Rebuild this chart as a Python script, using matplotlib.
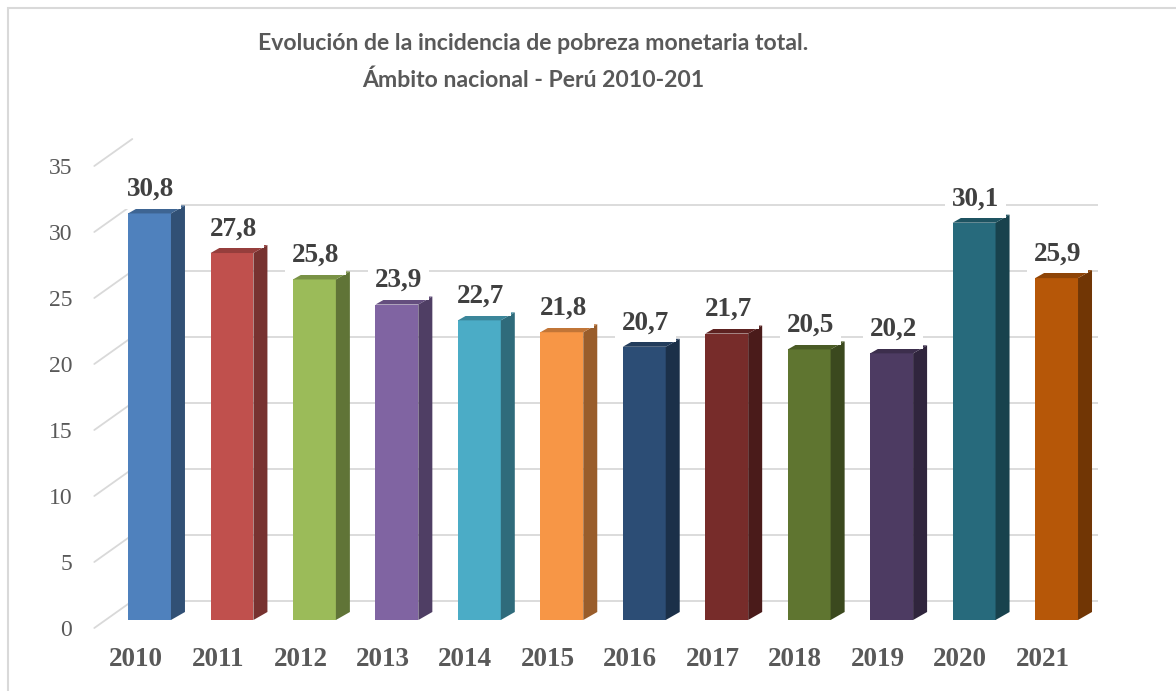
import matplotlib
matplotlib.use("Agg")
import matplotlib.pyplot as plt
from matplotlib.patches import Polygon, Rectangle, ConnectionPatch
from matplotlib.transforms import ScaledTranslation
import numpy as np

# ---- data ----
years = ["2010", "2011", "2012", "2013", "2014", "2015",
         "2016", "2017", "2018", "2019", "2020", "2021"]
values = [30.8, 27.8, 25.8, 23.9, 22.7, 21.8, 20.7, 21.7, 20.5, 20.2, 30.1, 25.9]
value_labels = ["30,8", "27,8", "25,8", "23,9", "22,7", "21,8",
                "20,7", "21,7", "20,5", "20,2", "30,1", "25,9"]
yticks = [0, 5, 10, 15, 20, 25, 30, 35]
colors = ["#4F81BD", "#C0504D", "#9BBB59", "#8064A2", "#4BACC6", "#F79646",
          "#2C4D75", "#772C2A", "#5F7530", "#4D3B62", "#276A7C", "#B65708"]
title_lines = ["Evolución de la incidencia de pobreza monetaria total.",
               "Ámbito nacional - Perú 2010-201"]

# ---- figure geometry (pixels) ----
W, H, DPI = 1176, 691, 100
AX_L, AX_R = 108.3, 1097.8
AX_B, AX_T = 620.0, 158.0
fig = plt.figure(figsize=(W / DPI, H / DPI), dpi=DPI)
ax = fig.add_axes([AX_L / W, (H - AX_B) / H, (AX_R - AX_L) / W, (AX_B - AX_T) / H])
ax.set_xlim(-0.5, len(years) - 0.5)
ax.set_ylim(0, 35)
ax.axis("off")

px_x = (AX_R - AX_L) / len(years)
px_y = (AX_B - AX_T) / 35.0


def off(dx, dy):
    return ax.transData + ScaledTranslation(dx / DPI, dy / DPI, fig.dpi_scale_trans)


BACK = (24, 19)
LABEL = (-14, -8)
grid_c = "#D9D9D9"

# back wall gridlines + diagonals
for v in yticks:
    ax.plot([-0.5, len(years) - 0.5], [v, v], color=grid_c, lw=1.3,
            transform=off(*BACK), zorder=1, solid_capstyle="butt")
    cp = ConnectionPatch(xyA=(-0.5, v), coordsA=off(*LABEL),
                         xyB=(-0.5, v), coordsB=off(*BACK),
                         color=grid_c, lw=1.3, zorder=1)
    ax.add_artist(cp)
    ax.text(-0.5, v, str(v), transform=off(LABEL[0] - 22, LABEL[1] - 2),
            ha="right", va="center", fontsize=17, color="#595959",
            family="Liberation Serif")

# bars
x = np.arange(len(years))
bw = 0.52
ddx = 14 / px_x
ddy = 8 / px_y


def shade(c, f):
    r, g, b = matplotlib.colors.to_rgb(c)
    return (r * f, g * f, b * f)


ax.bar(x, values, width=bw, color=colors, zorder=3)
for xi, v, c in zip(x, values, colors):
    r = xi + bw / 2
    l = xi - bw / 2
    side = Polygon([(r, 0), (r + ddx, ddy), (r + ddx, v + ddy), (r, v)],
                   closed=True, fc=shade(c, 0.62), ec="none", zorder=3)
    top = Polygon([(l, v), (l + ddx, v + ddy), (r + ddx, v + ddy), (r, v)],
                  closed=True, fc=shade(c, 0.78), ec="none", zorder=3)
    ax.add_patch(side)
    ax.add_patch(top)

for xi, v, t in zip(x, values, value_labels):
    ax.annotate(t, (xi, v), xytext=(1, 24 * 0.72), textcoords="offset points",
                ha="center", va="center", fontsize=19.5, fontweight="bold",
                color="#404040", family="Liberation Serif", zorder=5,
                bbox=dict(boxstyle="square,pad=0.25", fc="white", ec="none"))

for xi, yr in zip(x, years):
    ax.text(xi, 0, yr, transform=off(LABEL[0], LABEL[1] - 31),
            ha="center", va="center", fontsize=19.5, fontweight="bold",
            color="#595959", family="Liberation Serif")

for yy, line in zip([43, 80], title_lines):
    fig.text(533 / W, 1 - yy / H, line, ha="center", va="center",
             fontsize=16.6, fontweight="bold", color="#595959", family="Lato")

fig.patches.append(Rectangle((7.5 / W, -0.1), 1.2, (H - 7.5) / H + 0.1,
                             transform=fig.transFigure, fill=False,
                             ec="#D9D9D9", lw=1.5))

fig.savefig("out.png", dpi=DPI, facecolor="white")
